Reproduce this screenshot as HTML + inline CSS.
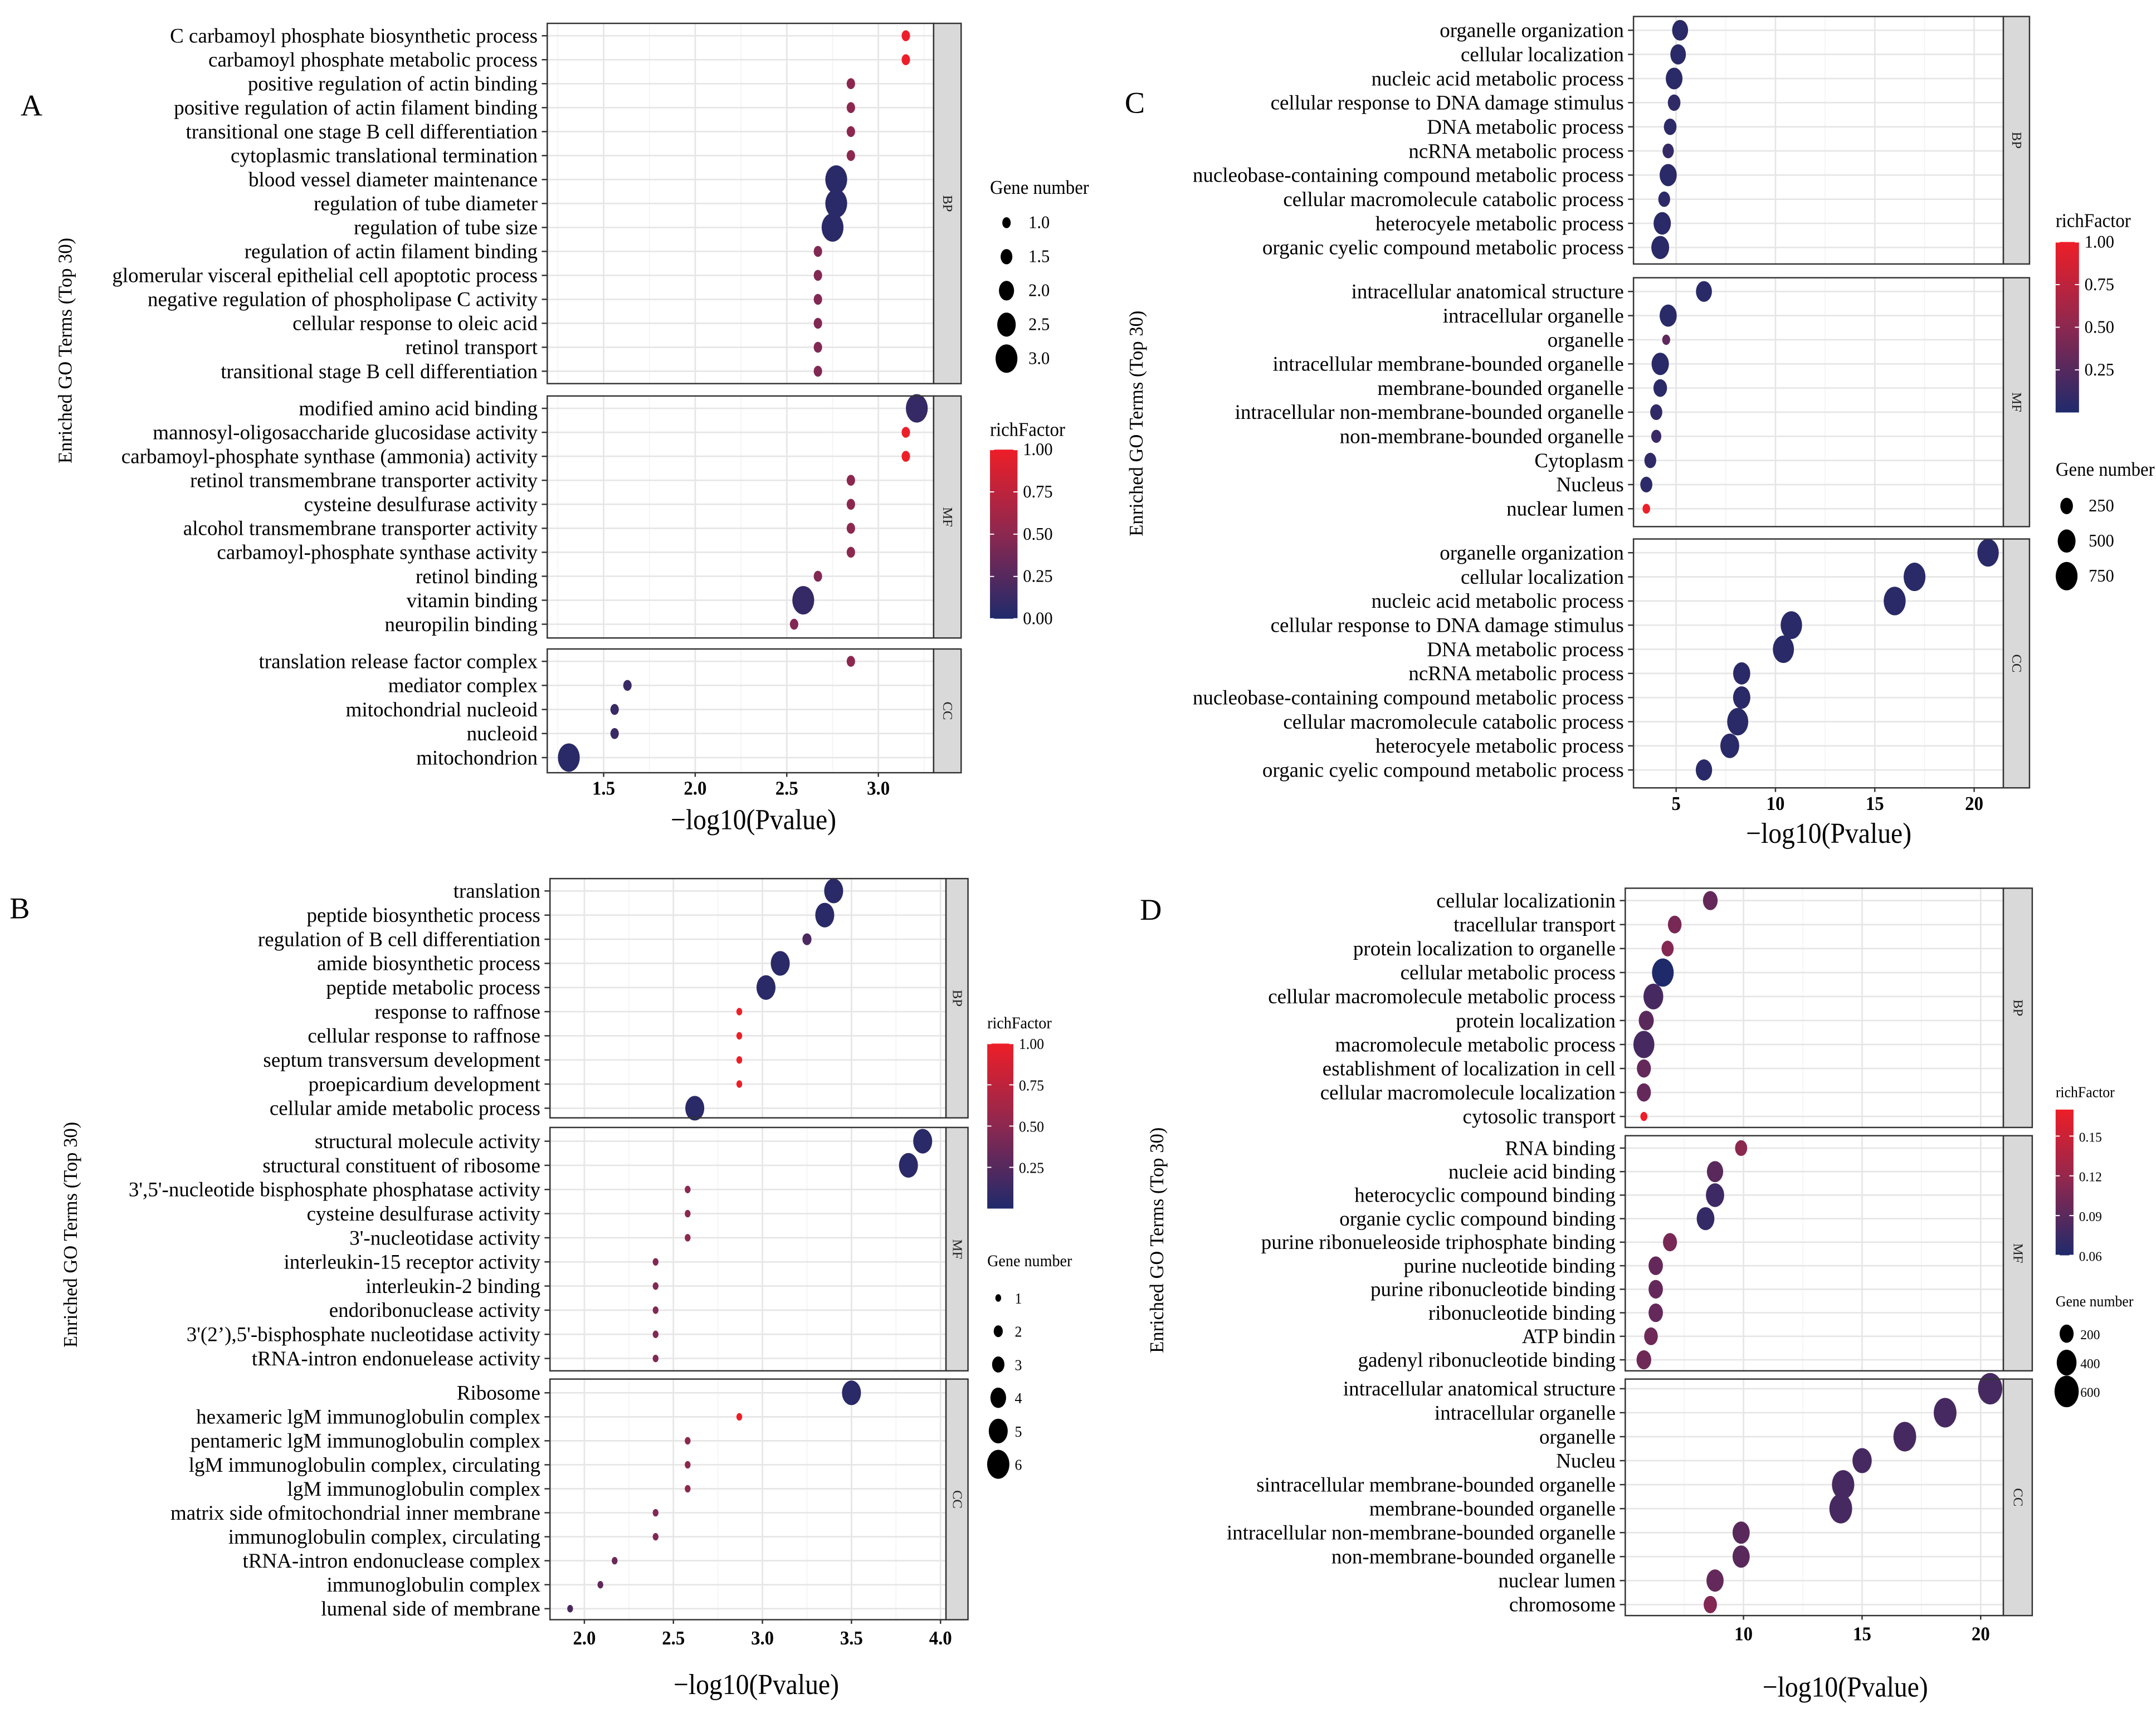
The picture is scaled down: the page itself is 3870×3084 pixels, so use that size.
<!DOCTYPE html>
<html><head><meta charset="utf-8"><style>
html,body{margin:0;padding:0;background:#fff;}
svg{display:block;font-family:"Liberation Serif",serif;}
</style></head><body>
<svg id="fig" width="3870" height="3084" viewBox="0 0 1568 1249.5" preserveAspectRatio="none" xmlns="http://www.w3.org/2000/svg"></svg>
<script>
// ===== Panel A data =====
const A_terms = ["C carbamoyl phosphate biosynthetic process","carbamoyl phosphate metabolic process","positive regulation of actin binding","positive regulation of actin filament binding","transitional one stage B cell differentiation","cytoplasmic translational termination","blood vessel diameter maintenance","regulation of tube diameter","regulation of tube size","regulation of actin filament binding","glomerular visceral epithelial cell apoptotic process","negative regulation of phospholipase C activity","cellular response to oleic acid","retinol transport","transitional stage B cell differentiation",
"modified amino acid binding","mannosyl-oligosaccharide glucosidase activity","carbamoyl-phosphate synthase (ammonia) activity","retinol transmembrane transporter activity","cysteine desulfurase activity","alcohol transmembrane transporter activity","carbamoyl-phosphate synthase activity","retinol binding","vitamin binding","neuropilin binding",
"translation release factor complex","mediator complex","mitochondrial nucleoid","nucleoid","mitochondrion"];
const A_pval = [3.15,3.15,2.85,2.85,2.85,2.85,2.77,2.77,2.75,2.67,2.67,2.67,2.67,2.67,2.67, 3.21,3.15,3.15,2.85,2.85,2.85,2.85,2.67,2.59,2.54, 2.85,1.63,1.56,1.56,1.31];
const A_genes = [1,1,1,1,1,1,3,3,3,1,1,1,1,1,1, 3,1,1,1,1,1,1,1,3,1, 1,1,1,1,3];
const A_rich = [1,1,0.5,0.5,0.5,0.5,0.05,0.05,0.05,0.45,0.45,0.45,0.45,0.45,0.45, 0.1,1,1,0.5,0.5,0.5,0.5,0.45,0.1,0.45, 0.5,0.12,0.12,0.12,0.05];
const A_facetSizes = [15,10,5];
const A_ticks = [1.5,2.0,2.5,3.0];
const A_tickLabels = ["1.5","2.0","2.5","3.0"];
const A_sizeLegend = [1.0,1.5,2.0,2.5,3.0];
const A_sizeLabels = ["1.0","1.5","2.0","2.5","3.0"];
const A_colorTicks = [1.00,0.75,0.50,0.25,0.00];
const A_colorLabels = ["1.00","0.75","0.50","0.25","0.00"];

// ===== Panel B data =====
const B_terms = ["translation","peptide biosynthetic process","regulation of B cell differentiation","amide biosynthetic process","peptide metabolic process","response to raffnose","cellular response to raffnose","septum transversum development","proepicardium development","cellular amide metabolic process",
"structural molecule activity","structural constituent of ribosome","3',5'-nucleotide bisphosphate phosphatase activity","cysteine desulfurase activity","3'-nucleotidase activity","interleukin-15 receptor activity","interleukin-2 binding","endoribonuclease activity","3'(2’),5'-bisphosphate nucleotidase activity","tRNA-intron endonuelease activity",
"Ribosome","hexameric lgM immunoglobulin complex","pentameric lgM immunoglobulin complex","lgM immunoglobulin complex, circulating","lgM immunoglobulin complex","matrix side ofmitochondrial inner membrane","immunoglobulin complex, circulating","tRNA-intron endonuclease complex","immunoglobulin complex","lumenal side of membrane"];
const B_pval = [3.4,3.35,3.25,3.1,3.02,2.87,2.87,2.87,2.87,2.62, 3.9,3.82,2.58,2.58,2.58,2.4,2.4,2.4,2.4,2.4, 3.5,2.87,2.58,2.58,2.58,2.4,2.4,2.17,2.09,1.92];
const B_genes = [5,5,2,5,5,1,1,1,1,5, 5,5,1,1,1,1,1,1,1,1, 5,1,1,1,1,1,1,1,1,1];
const B_rich = [0.05,0.05,0.2,0.05,0.05,1,1,1,1,0.05, 0.05,0.05,0.5,0.5,0.5,0.45,0.45,0.45,0.45,0.45, 0.05,1,0.5,0.5,0.5,0.45,0.45,0.35,0.3,0.2];
const B_facetSizes = [10,10,10];
const B_ticks = [2.0,2.5,3.0,3.5,4.0];
const B_tickLabels = ["2.0","2.5","3.0","3.5","4.0"];
const B_sizeLegend = [1,2,3,4,5,6];
const B_sizeLabels = ["1","2","3","4","5","6"];
const B_colorTicks = [1.00,0.75,0.50,0.25];
const B_colorLabels = ["1.00","0.75","0.50","0.25"];

// ===== Panel C data =====
const C_terms = ["organelle organization","cellular localization","nucleic acid metabolic process","cellular response to DNA damage stimulus","DNA metabolic process","ncRNA metabolic process","nucleobase-containing compound metabolic process","cellular macromolecule catabolic process","heterocyele metabolic process","organic cyelic compound metabolic process",
"intracellular anatomical structure","intracellular organelle","organelle","intracellular membrane-bounded organelle","membrane-bounded organelle","intracellular non-membrane-bounded organelle","non-membrane-bounded organelle","Cytoplasm","Nucleus","nuclear lumen",
"organelle organization","cellular localization","nucleic acid metabolic process","cellular response to DNA damage stimulus","DNA metabolic process","ncRNA metabolic process","nucleobase-containing compound metabolic process","cellular macromolecule catabolic process","heterocyele metabolic process","organic cyelic compound metabolic process"];
const C_pval = [5.2,5.1,4.9,4.9,4.7,4.6,4.6,4.4,4.3,4.2, 6.4,4.6,4.5,4.2,4.2,4.0,4.0,3.7,3.5,3.5, 20.7,17.0,16.0,10.8,10.4,8.3,8.3,8.1,7.7,6.4];
const C_genes = [400,380,440,250,250,200,460,220,470,500, 400,460,100,470,290,230,160,220,230,90, 720,750,760,720,700,460,470,700,560,420];
const C_rich = [0.05,0.05,0.05,0.08,0.06,0.1,0.05,0.07,0.05,0.05, 0.05,0.05,0.3,0.05,0.05,0.08,0.12,0.08,0.06,1, 0.05,0.05,0.05,0.05,0.05,0.05,0.05,0.05,0.05,0.05];
const C_facetSizes = [10,10,10];
const C_ticks = [5,10,15,20];
const C_tickLabels = ["5","10","15","20"];
const C_sizeLegend = [250,500,750];
const C_sizeLabels = ["250","500","750"];
const C_colorTicks = [1.00,0.75,0.50,0.25];
const C_colorLabels = ["1.00","0.75","0.50","0.25"];

// ===== Panel D data =====
const D_terms = ["cellular localizationin","tracellular transport","protein localization to organelle","cellular metabolic process","cellular macromolecule metabolic process","protein localization","macromolecule metabolic process","establishment of localization in cell","cellular macromolecule localization","cytosolic transport",
"RNA binding","nucleie acid binding","heterocyclic compound binding","organie cyclic compound binding","purine ribonueleoside triphosphate binding","purine nucleotide binding","purine ribonucleotide binding","ribonucleotide binding","ATP bindin","gadenyl ribonucleotide binding",
"intracellular anatomical structure","intracellular organelle","organelle","Nucleu","sintracellular membrane-bounded organelle","membrane-bounded organelle","intracellular non-membrane-bounded organelle","non-membrane-bounded organelle","nuclear lumen","chromosome"];
const D_pval = [8.6,7.1,6.8,6.6,6.2,5.9,5.8,5.8,5.8,5.8, 9.9,8.8,8.8,8.4,6.9,6.3,6.3,6.3,6.1,5.8, 20.4,18.5,16.8,15.0,14.2,14.1,9.9,9.9,8.8,8.6];
const D_genes = [220,190,150,480,400,230,450,200,200,50, 150,270,340,320,200,210,210,210,190,220, 600,530,530,380,510,530,300,300,300,180];
const D_rich = [0.095,0.105,0.11,0.06,0.08,0.09,0.08,0.095,0.095,0.17, 0.115,0.09,0.075,0.07,0.105,0.095,0.095,0.095,0.1,0.1, 0.08,0.08,0.08,0.08,0.08,0.08,0.09,0.09,0.095,0.11];
const D_facetSizes = [10,10,10];
const D_ticks = [10,15,20];
const D_tickLabels = ["10","15","20"];
const D_sizeLegend = [200,400,600];
const D_sizeLabels = ["200","400","600"];
const D_colorTicks = [0.15,0.12,0.09,0.06];
const D_colorLabels = ["0.15","0.12","0.09","0.06"];

const NS = "http://www.w3.org/2000/svg";
const svg = document.getElementById('fig');
function mk(tag, attrs, parent){
  const e = document.createElementNS(NS, tag);
  for (const k in attrs) e.setAttribute(k, attrs[k]);
  (parent||svg).appendChild(e);
  return e;
}
const LOW=[31,42,107], HIGH=[238,30,40];
function colorOf(t){
  t=Math.max(0,Math.min(1,t));
  const MID=[140,40,80];
  let c;
  if(t<0.5){const u=t/0.5;c=LOW.map((v,i)=>v+(MID[i]-v)*u);}else{const u=(t-0.5)/0.5;c=MID.map((v,i)=>v+(HIGH[i]-v)*u);}
  return 'rgb('+c.map(Math.round).join(',')+')';
}
function txt(parent, x, y, s, size, anchor, sx, extra){
  const t = mk('text', Object.assign({transform:'translate('+x+','+y+') scale('+sx+',1)', 'font-size':size, 'text-anchor':anchor, fill:'#000'}, extra||{}), parent);
  t.textContent = s;
  return t;
}

function drawPanel(P){
  const g = mk('g', {});
  
  
  const xs = v => P.px0 + (v - P.v0) * P.ppu;
  const L = txt(g, P.letter[0], P.letter[1], P.id, 22, 'start', 1);
  
  
  let idx = 0;
  const names=['BP','MF','CC'];
  P.facets.forEach((F, fi) => {
    const fg = mk('g', {}, g);
    
    
    mk('rect', {x:P.x0, y:F.y0, width:P.x1-P.x0, height:F.y1-F.y0, fill:'#fff'}, fg);
    const minorStep = (P.ticks[1]-P.ticks[0])/2;
    for (let v = P.ticks[0]-minorStep*4; v <= P.ticks[P.ticks.length-1]+minorStep*4; v += minorStep){
      const x = xs(v);
      if (x <= P.x0+0.5 || x >= P.x1-0.5) continue;
      const major = P.ticks.some(t=>Math.abs(t-v)<1e-6);
      mk('line', {x1:x, x2:x, y1:F.y0, y2:F.y1, stroke: major?'#e6e6e6':'#f2f2f2', 'stroke-width': major?1.1:0.6}, fg);
    }
    const n = P.facetSizes[fi];
    for (let i=0;i<n;i++){
      const y = F.r0 + i*F.step;
      mk('line', {x1:P.x0, x2:P.x1, y1:y, y2:y, stroke:'#e6e6e6', 'stroke-width':1.1}, fg);
      mk('line', {x1:P.x0-4, x2:P.x0, y1:y, y2:y, stroke:'#333', 'stroke-width':1}, fg);
      const lab = txt(fg, P.x0-7, y+5, P.terms[idx], P.fs, 'end', P.fsx);
      
      
      const r = P.rad(P.genes[idx]);
      const pt = mk('ellipse', {cx:xs(P.pval[idx]), cy:y, rx:r, ry:r*1.3, fill:colorOf(P.cnorm(P.rich[idx]))}, fg);
      
      
      idx++;
    }
    mk('rect', {x:P.x0, y:F.y0, width:P.x1-P.x0, height:F.y1-F.y0, fill:'none', stroke:'#333', 'stroke-width':1}, fg);
    const strip = mk('rect', {x:P.x1, y:F.y0, width:P.sw, height:F.y1-F.y0, fill:'#d9d9d9', stroke:'#333', 'stroke-width':1}, fg);
    
    
    const cy = (F.y0+F.y1)/2, cx = P.x1+P.sw/2;
    const st = mk('text', {transform:'translate('+(cx-3)+','+cy+') rotate(90)', 'font-size':10, 'text-anchor':'middle', fill:'#222'}, fg);
    st.textContent = names[fi];
  });
  const lastF = P.facets[P.facets.length-1];
  P.ticks.forEach((v,i) => {
    const x = xs(v);
    mk('line', {x1:x, x2:x, y1:lastF.y1, y2:lastF.y1+3, stroke:'#333', 'stroke-width':1}, g);
    const tl = txt(g, x, lastF.y1+P.tickDy, P.tickLabels[i], 14, 'middle', 0.95, {'font-weight':'bold'});
    
    
  });
  const xt = txt(g, P.xTitle[0], P.xTitle[1], '\u2212log10(Pvalue)', 21, 'middle', 0.92);
  
  
  const yt = mk('text', {transform:'translate('+P.yTitle[0]+','+P.yTitle[1]+') rotate(-90)', 'font-size':14, 'text-anchor':'middle', fill:'#000'}, g);
  yt.textContent = 'Enriched GO Terms (Top 30)';
  
  
  const sl = mk('g', {}, g);
  
  
  txt(sl, P.sizeLeg.x, P.sizeLeg.y, 'Gene number', P.sizeLeg.fs, 'start', 0.95);
  P.sizeLegend.forEach((v,i) => {
    const y = P.sizeLeg.y0 + i*P.sizeLeg.step;
    const r = P.rad(v);
    const e = mk('ellipse', {cx:P.sizeLeg.cx, cy:y, rx:r, ry:r*1.3, fill:'#000'}, sl);
    
    
    txt(sl, P.sizeLeg.lx, y+4, P.sizeLabels[i], P.sizeLeg.fs-1, 'start', 0.95);
  });
  const cl = mk('g', {}, g);
  
  
  const C = P.colLeg;
  txt(cl, C.x, C.ty, 'richFactor', C.fs, 'start', 0.95);
  const gid = 'grad'+P.id;
  const defs = mk('defs', {}, cl);
  const lg = mk('linearGradient', {id:gid, x1:0, y1:1, x2:0, y2:0}, defs);
  for (let k=0;k<=10;k++){ mk('stop', {offset:(k/10), 'stop-color':colorOf(k/10)}, lg); }
  mk('rect', {x:C.x, y:C.y0, width:C.w, height:C.y1-C.y0, fill:'url(#'+gid+')'}, cl);
  P.colorTicks.forEach((v,i) => {
    const y = C.y1 - P.cnorm(v)*(C.y1-C.y0);
    mk('line', {x1:C.x, x2:C.x+3, y1:y, y2:y, stroke:'#fff', 'stroke-width':0.8}, cl);
    mk('line', {x1:C.x+C.w-3, x2:C.x+C.w, y1:y, y2:y, stroke:'#fff', 'stroke-width':0.8}, cl);
    txt(cl, C.x+C.w+4, y+4, P.colorLabels[i], C.fs-1, 'start', 0.95);
  });
}

function rows(y0,y1,n){return (y1-y0)/(n-1);}

drawPanel({id:'A', terms:A_terms, pval:A_pval, genes:A_genes, rich:A_rich, facetSizes:A_facetSizes,
  ticks:A_ticks, tickLabels:A_tickLabels, sizeLegend:A_sizeLegend, sizeLabels:A_sizeLabels, colorTicks:A_colorTicks, colorLabels:A_colorLabels,
  x0:398, x1:679, sw:20, v0:1.5, px0:439, ppu:133.2, fs:15, fsx:1.0, tickDy:16, letter:[15,84],
  facets:[{y0:17,y1:279,r0:26,step:rows(26,270,15)},{y0:288,y1:464,r0:297,step:rows(297,454,10)},{y0:472,y1:562,r0:481,step:rows(481,551,5)}],
  rad:g=>0.6+g*2.45, cnorm:v=>v,
  xTitle:[548,603], yTitle:[52,255],
  sizeLeg:{x:720,y:141,fs:14,y0:162,step:24.7,cx:732,lx:748},
  colLeg:{x:720,ty:317,fs:14,w:20,y0:327,y1:450}});

drawPanel({id:'B', terms:B_terms, pval:B_pval, genes:B_genes, rich:B_rich, facetSizes:B_facetSizes,
  ticks:B_ticks, tickLabels:B_tickLabels, sizeLegend:B_sizeLegend, sizeLabels:B_sizeLabels, colorTicks:B_colorTicks, colorLabels:B_colorLabels,
  x0:400, x1:688, sw:16, v0:2.0, px0:425, ppu:129.5, fs:15, fsx:1.0, tickDy:18, letter:[7,668],
  facets:[{y0:639,y1:813,r0:648,step:rows(648,806,10)},{y0:820,y1:997,r0:830,step:rows(830,988,10)},{y0:1003,y1:1178,r0:1013,step:rows(1013,1170,10)}],
  rad:g=>0.9+g*1.2, cnorm:v=>v,
  xTitle:[550,1232], yTitle:[56,898],
  sizeLeg:{x:718,y:921,fs:12,y0:944,step:24.2,cx:726,lx:738},
  colLeg:{x:718,ty:748,fs:12,w:19,y0:759,y1:879}});

drawPanel({id:'C', terms:C_terms, pval:C_pval, genes:C_genes, rich:C_rich, facetSizes:C_facetSizes,
  ticks:C_ticks, tickLabels:C_tickLabels, sizeLegend:C_sizeLegend, sizeLabels:C_sizeLabels, colorTicks:C_colorTicks, colorLabels:C_colorLabels,
  x0:1188, x1:1457, sw:19, v0:5, px0:1219, ppu:14.45, fs:15, fsx:1.0, tickDy:16, letter:[818,82],
  facets:[{y0:12,y1:192,r0:22,step:rows(22,180,10)},{y0:202,y1:383,r0:212,step:rows(212,370,10)},{y0:392,y1:573,r0:402,step:rows(402,560,10)}],
  rad:g=>Math.sqrt(g)*0.29, cnorm:v=>v,
  xTitle:[1330,613], yTitle:[831,308],
  sizeLeg:{x:1495,y:346,fs:14,y0:368,step:25.5,cx:1503,lx:1519},
  colLeg:{x:1495,ty:165,fs:14,w:17,y0:176,y1:300}});

drawPanel({id:'D', terms:D_terms, pval:D_pval, genes:D_genes, rich:D_rich, facetSizes:D_facetSizes,
  ticks:D_ticks, tickLabels:D_tickLabels, sizeLegend:D_sizeLegend, sizeLabels:D_sizeLabels, colorTicks:D_colorTicks, colorLabels:D_colorLabels,
  x0:1182, x1:1457, sw:21, v0:10, px0:1268, ppu:17.25, fs:15, fsx:1.0, tickDy:18, letter:[829,669],
  facets:[{y0:646,y1:820,r0:655,step:rows(655,812,10)},{y0:826,y1:997,r0:835,step:rows(835,989,10)},{y0:1003,y1:1175,r0:1010,step:rows(1010,1167,10)}],
  rad:g=>Math.sqrt(g)*0.36, cnorm:v=>(v-0.06)/(0.17-0.06),
  xTitle:[1342,1234], yTitle:[846,902],
  sizeLeg:{x:1495,y:950,fs:11,y0:970,step:21,cx:1503,lx:1513},
  colLeg:{x:1495,ty:798,fs:11,w:13,y0:807,y1:913}});
</script>
</body></html>
